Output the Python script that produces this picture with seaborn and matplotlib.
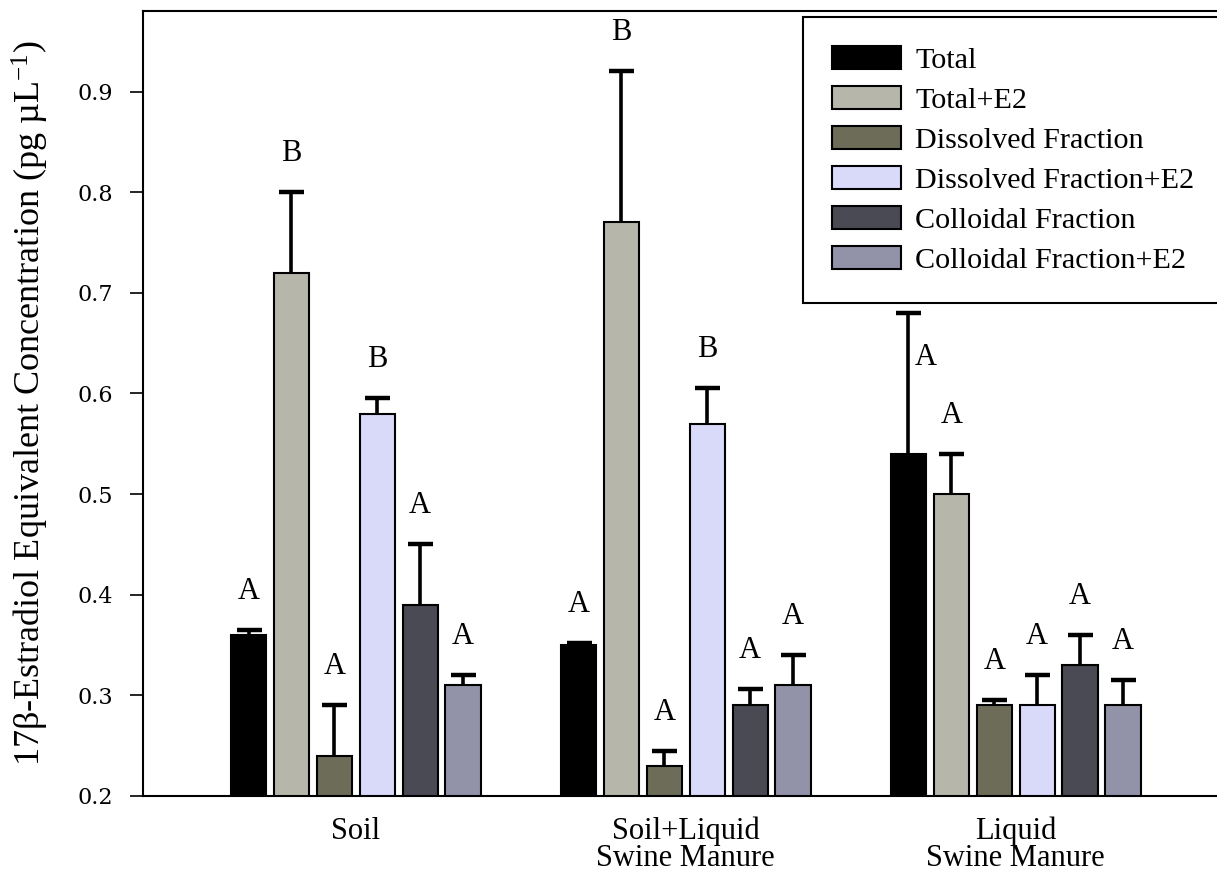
import numpy as np
import pandas as pd
import matplotlib
matplotlib.use("Agg")
import matplotlib.pyplot as plt
from matplotlib.patches import Patch
import seaborn as sns

# Sample types (x categories) and measured fractions (hue levels)
sites = ["Soil", "Soil+Liquid\nSwine Manure", "Liquid\nSwine Manure"]
fractions = ["Total", "Total+E2", "Dissolved Fraction", "Dissolved Fraction+E2",
             "Colloidal Fraction", "Colloidal Fraction+E2"]

# Mean 17β-estradiol equivalent concentration (pg/µL), per site, in fraction order
soil_mean = [0.36, 0.72, 0.24, 0.58, 0.39, 0.31]
soil_lsm_mean = [0.35, 0.77, 0.23, 0.57, 0.29, 0.31]
lsm_mean = [0.54, 0.50, 0.29, 0.29, 0.33, 0.29]

# Standard errors (upper whiskers only)
soil_err = [0.005, 0.08, 0.05, 0.015, 0.06, 0.01]
soil_lsm_err = [0.002, 0.15, 0.015, 0.035, 0.016, 0.03]
lsm_err = [0.14, 0.04, 0.005, 0.03, 0.03, 0.025]

# Significance groupings
soil_group = ["A", "B", "A", "B", "A", "A"]
soil_lsm_group = ["A", "B", "A", "B", "A", "A"]
lsm_group = ["A", "A", "A", "A", "A", "A"]

y_ticks = [0.2, 0.3, 0.4, 0.5, 0.6, 0.7, 0.8, 0.9]

colors = ["#000000", "#b6b6aa", "#6c6c58", "#d9d9fa", "#4a4a55", "#9292a8"]

rows = []
for site, means, errs, groups in zip(
        sites,
        [soil_mean, soil_lsm_mean, lsm_mean],
        [soil_err, soil_lsm_err, lsm_err],
        [soil_group, soil_lsm_group, lsm_group]):
    for frac, m, e, g in zip(fractions, means, errs, groups):
        rows.append({"site": site, "fraction": frac, "value": m, "err": e, "group": g})
df = pd.DataFrame(rows)

sns.set_style("white")
plt.rcParams["font.family"] = ["Liberation Serif", "DejaVu Serif"]
plt.rcParams["mathtext.fontset"] = "custom"
plt.rcParams["mathtext.rm"] = "Liberation Serif"
plt.rcParams["mathtext.it"] = "Liberation Serif:italic"
for key in ["text.color", "axes.labelcolor", "xtick.color", "ytick.color",
            "axes.edgecolor"]:
    plt.rcParams[key] = "black"

fig = plt.figure(figsize=(12.17, 8.73), dpi=100)
ax = fig.add_axes([143 / 1217, 77 / 873, 1 - 143 / 1217, (796 - 11) / 873])

sns.barplot(data=df, x="site", y="value", hue="fraction", order=sites,
            hue_order=fractions, palette=colors, width=0.78, gap=0.18,
            edgecolor="black", linewidth=1.5, errorbar=None, legend=False,
            saturation=1, ax=ax)

ax.set_xlim(-0.645, 2.61)
ax.set_ylim(0.2, 0.98)

# Legend: frame runs off the right edge of the figure
handles = [Patch(facecolor=c, edgecolor="black", linewidth=1.5) for c in colors]
leg = fig.legend(handles, fractions, loc="upper left",
                 bbox_to_anchor=(803 / 1217, 0.6564, 0.36, 1 - 17 / 873 - 0.6564),
                 bbox_transform=fig.transFigure, mode="expand",
                 fontsize=21.7, frameon=True, fancybox=False, framealpha=1,
                 edgecolor="black", handlelength=2.3, handleheight=0.8,
                 handletextpad=0.48, labelspacing=0.4, borderpad=0.95,
                 borderaxespad=0)
leg.get_frame().set_linewidth(1.5)

fig.canvas.draw()
renderer = fig.canvas.get_renderer()
leg_box = leg.get_window_extent(renderer)

# Upper whiskers and significance letters
for frac, container in zip(fractions, ax.containers):
    sub = df[df["fraction"] == frac].set_index("site").loc[sites]
    for bar, (_, r) in zip(container, sub.iterrows()):
        xc = bar.get_x() + bar.get_width() / 2
        top = r["value"]
        cap = top + r["err"]
        ax.vlines(xc, top, cap, color="black", linewidth=2.6, zorder=4)
        ax.plot([xc], [cap], marker="_", markersize=18, markeredgewidth=3.2,
                color="black", linestyle="none", zorder=5)
        t = ax.text(xc, cap + 0.024, r["group"], ha="center", va="bottom",
                    fontsize=22, zorder=6)
        tb = t.get_window_extent(renderer)
        if tb.overlaps(leg_box):
            # no room above the whisker: place the letter beside it
            t.set_position((xc + 0.018, cap - 0.044))
            t.set_ha("left")
            t.set_va("center")

ax.set_yticks(y_ticks)
ax.set_yticklabels([f"{v:.1f}" for v in y_ticks], fontfamily="DejaVu Serif",
                   fontsize=16)
ax.tick_params(axis="y", direction="out", length=9.5, width=1.2, pad=12,
               left=True)
ax.tick_params(axis="x", length=0, pad=15, labelsize=22)
for lbl in ax.get_xticklabels():
    lbl.set_linespacing(0.9)

ax.set_xlabel("")
ax.set_ylabel(r"17β-Estradiol Equivalent Concentration (pg µL$^{\mathrm{-1}}$)",
              fontsize=26)
ax.yaxis.set_label_coords(-0.086, 0.5)

for side in ["left", "bottom", "top"]:
    ax.spines[side].set_visible(True)
    ax.spines[side].set_linewidth(1.5)
    ax.spines[side].set_color("black")
ax.spines["right"].set_visible(False)

fig.savefig("out.png", dpi=100)
